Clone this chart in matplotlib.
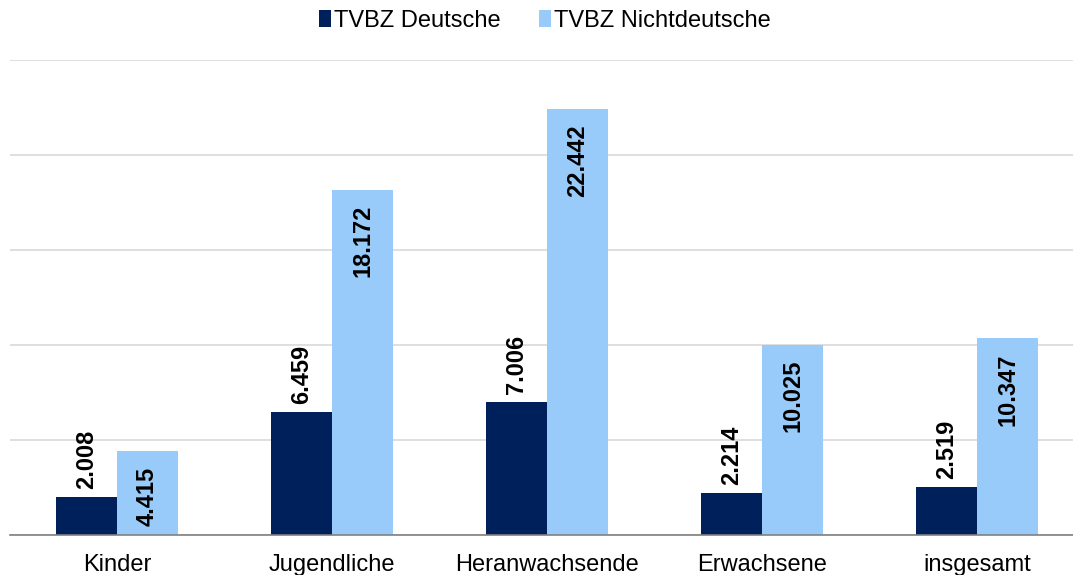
import matplotlib
matplotlib.use("Agg")
import matplotlib.pyplot as plt
import numpy as np

plt.rcParams["font.family"] = ["Liberation Sans", "DejaVu Sans"]

categories = ["Kinder", "Jugendliche", "Heranwachsende", "Erwachsene", "insgesamt"]
deutsche = [2008, 6459, 7006, 2214, 2519]
nichtdeutsche = [4415, 18172, 22442, 10025, 10347]
labels_d = ["2.008", "6.459", "7.006", "2.214", "2.519"]
labels_n = ["4.415", "18.172", "22.442", "10.025", "10.347"]

C_DARK = "#00205b"
C_LIGHT = "#99cbfa"

fig = plt.figure(figsize=(10.73, 5.75), dpi=100)
ax = fig.add_axes([10 / 1073, 40 / 575, 1063 / 1073, 475 / 575])

x = np.arange(len(categories))
w = 0.284
b1 = ax.bar(x - w / 2, deutsche, w, color=C_DARK, label="TVBZ Deutsche", zorder=3)
b2 = ax.bar(x + w / 2, nichtdeutsche, w, color=C_LIGHT, label="TVBZ Nichtdeutsche", zorder=3)

for r, t in zip(b1, labels_d):
    ax.annotate(t, (r.get_x() + r.get_width() / 2, r.get_height()), xytext=(0, 6),
                textcoords="offset points", rotation=90, ha="center", va="bottom",
                fontsize=17, fontweight="bold", zorder=4)
for r, t in zip(b2, labels_n):
    ax.annotate(t, (r.get_x() + r.get_width() / 2, r.get_height()), xytext=(0, -11),
                textcoords="offset points", rotation=90, ha="center", va="top",
                fontsize=17, fontweight="bold", zorder=4)

ax.set_xlim(-0.4977, 4.4465)
ax.set_ylim(0, 25000)
ax.set_yticks(np.arange(0, 25001, 5000))
ax.set_yticklabels([])
ax.tick_params(axis="y", length=0)
ax.tick_params(axis="x", length=0, labelsize=17, pad=14)
ax.set_xticks(x)
ax.set_xticklabels(categories)
ax.grid(axis="y", color="#d9d9d9", linewidth=1.2, zorder=0)
for s in ["left", "right", "top"]:
    ax.spines[s].set_visible(False)
ax.spines["bottom"].set_color("#808080")
ax.spines["bottom"].set_linewidth(1.2)
ax.spines["bottom"].set_zorder(5)

fig.legend(handles=[b1, b2], loc="center", bbox_to_anchor=(545 / 1073, 1 - 21 / 575),
           ncol=2, frameon=False, fontsize=17, handlelength=0.5, handleheight=0.75,
           handletextpad=0.15, columnspacing=1.6)

fig.savefig("out.png", dpi=100)
